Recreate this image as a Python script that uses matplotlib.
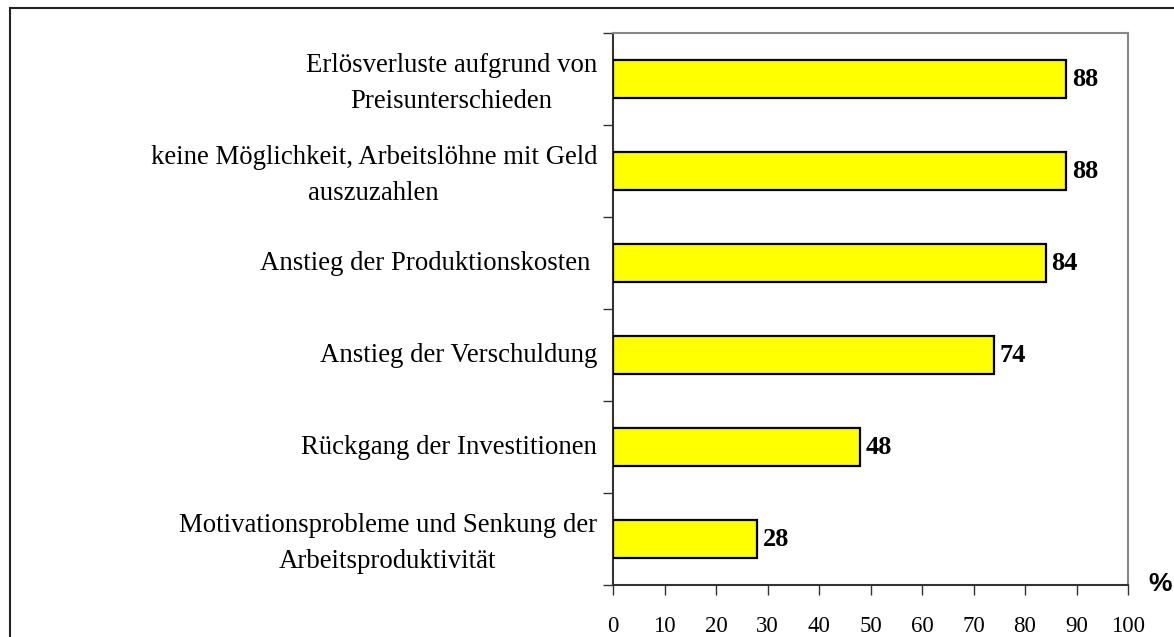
import matplotlib
matplotlib.use("Agg")
import matplotlib.pyplot as plt
from matplotlib.patches import Rectangle

categories = [
    "Erlösverluste aufgrund von\nPreisunterschieden",
    "keine Möglichkeit, Arbeitslöhne mit Geld\nauszuzahlen",
    "Anstieg der Produktionskosten ",
    "Anstieg der Verschuldung",
    "Rückgang der Investitionen",
    "Motivationsprobleme und Senkung der\nArbeitsproduktivität",
]
values = [88, 88, 84, 74, 48, 28]
xticks = [0, 10, 20, 30, 40, 50, 60, 70, 80, 90, 100]

W, H = 1174, 637
fig = plt.figure(figsize=(W / 100, H / 100), dpi=100)
fig.patch.set_facecolor("white")

# axes placement in pixels
left, right, top, bottom = 613, 1128, 33, 585
ax = fig.add_axes([left / W, 1 - bottom / H, (right - left) / W, (bottom - top) / H])

n = len(categories)
ypos = list(range(n))[::-1]
ax.barh(ypos, values, height=0.41, color="#FFFF00", edgecolor="black", linewidth=1.6, zorder=3)

ax.set_xlim(0, 100)
ax.set_ylim(-0.5, n - 0.5)
ax.set_xticks(xticks)
ax.set_xticklabels([str(t) for t in xticks], family="Liberation Serif", fontsize=16.5)
ax.tick_params(axis="x", length=7, width=1, colors="#333333", pad=15, labelcolor="black")
ax.set_yticks([i - 0.5 for i in range(n + 1)])
ax.set_yticklabels([])
ax.tick_params(axis="y", length=7, width=1, colors="#333333")

for s in ["top", "right"]:
    ax.spines[s].set_color("#888888")
    ax.spines[s].set_linewidth(1.5)
for s in ["left", "bottom"]:
    ax.spines[s].set_color("#333333")
    ax.spines[s].set_linewidth(1.5)

for y, lab in zip(ypos, categories):
    dy = -0.05 if "\n" in lab else 0.0
    ax.text(-0.031, y + dy, lab, transform=ax.get_yaxis_transform(), ha="right", va="center",
            family="Liberation Serif", fontsize=19.3, multialignment="center", linespacing=1.55)

for y, v in zip(ypos, values):
    ax.text(v + 1.1, y, str(v), ha="left", va="center", family="Liberation Serif",
            fontsize=19, fontweight="bold")

fig.text(1160 / W, 1 - 584 / H, "%", ha="center", va="center", family="Liberation Sans",
         fontsize=19, fontweight="bold")

# outer frame (extends beyond right/bottom edge)
fig.patches.append(Rectangle((10 / W, -0.1), 1.2, 1 - 8 / H + 0.1, transform=fig.transFigure,
                             fill=False, edgecolor="#222222", linewidth=1.5))

fig.savefig("out.png", dpi=100, facecolor="white")
